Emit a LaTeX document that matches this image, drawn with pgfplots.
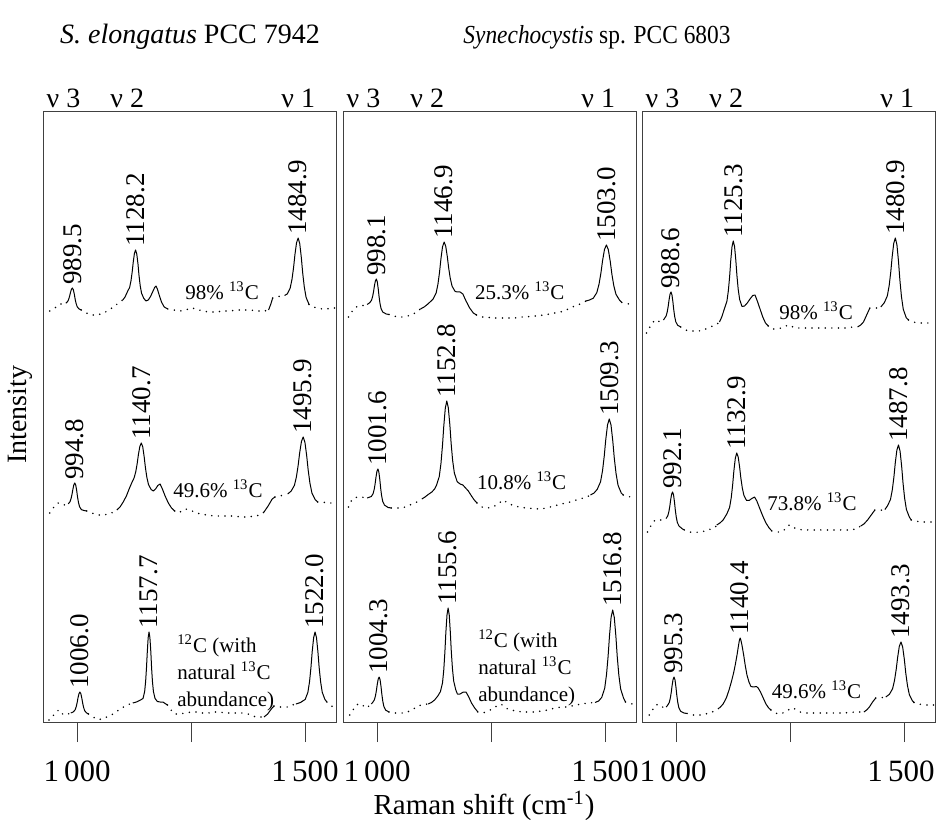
\documentclass[border=0pt]{standalone}
\usepackage{fontspec}
\setmainfont{Liberation Serif}
\usepackage{pgfplots}
\pgfplotsset{compat=1.18}

\newcommand\pkfont{\fontsize{13.5}{15}\selectfont}
\newcommand\smallfont{\fontsize{10.5}{13.5}\selectfont}
\newcommand\midfont{\fontsize{14}{16}\selectfont}

\tikzset{
  spec/.style={black, line width=0.5pt, line join=round},
  base/.style={black, line width=0.85pt, line cap=round, dash pattern=on 0pt off 3.3pt},
}

\pgfplotsset{
  ramanpanel/.style={
    scale only axis, width=146.5pt, height=305pt, anchor=south west,
    xmin=925, xmax=1568, ymin=0, ymax=610,
    xtick={1000,1250,1500},
    xticklabels={\textrm{1\,000},{},\textrm{1\,500}},
    ytick=\empty,
    xtick pos=lower, tick align=outside,
    major tick length=10pt,
    major tick style={black!75, line width=0.5pt},
    axis line style={black!75, line width=0.5pt},
    xticklabel style={font=\fontsize{15.5}{18}\selectfont, yshift=-6pt},
    clip=false,
    unbounded coords=jump,
  },
}

% peak position label, rotated, sitting on top of the peak
\newcommand\pk[3]{\node[rotate=90, anchor=west, inner sep=1.5pt, font=\pkfont] at (axis cs:#1,#2) {#3};}
% isotope label
\newcommand\pct[3]{\node[font=\smallfont, inner sep=0pt] at (axis cs:#1,#2) {#3 \textsuperscript{13}C};}
% vibrational mode label above the panel
\newcommand\mode[2]{\node[font=\midfont, inner sep=0pt] at (axis cs:#1,624) {ν #2};}

\begin{document}
\begin{tikzpicture}

%% ---------- S. elongatus PCC 7942 ----------
\begin{axis}[ramanpanel, at={(21.5pt,48.5pt)}]
% 98 % 13C
\addplot[spec] coordinates {
(975.1,418.8) (979,420.4) (981.4,422.8) (983.5,426) (985.3,429.5) (987.4,432.7) (989.5,434) (991.6,432.2) (993.7,427.8) (995.5,423) (997.6,418.6) (1000,415.3) (1003.9,413.1) (1009,412)
(1009,nan)
(1100,422) (1105,425) (1110.2,430.2) (1115.1,434.6) (1118.1,441.2) (1120.7,450) (1123,459.7) (1125.6,468.5) (1128.2,472) (1130.8,467.9) (1133.5,457.7) (1135.7,446.5) (1138.3,436.3) (1141.3,428.7) (1146.2,423.6) (1151,421) (1156,422) (1161,425.5) (1166,430.5) (1170,434.5) (1173,436) (1176,433) (1180,427) (1185,420) (1191,415) (1199,413)
(1199,nan)
(1420,412) (1425,418) (1429,424)
(1429,nan)
(1455,426.5) (1460.9,428) (1467.4,433.9) (1471.4,442.7) (1474.9,454.5) (1477.9,467.5) (1481.4,479.3) (1484.9,484) (1488.4,478.4) (1491.9,464.4) (1494.9,449) (1498.4,435) (1502.4,424.5) (1508.9,417.5)
};
\addplot[base] coordinates {
(940,411) (947,413) (954,415) (961,417) (968,419) (975.1,418.8)
(975.1,nan)
(1009,412) (1020,409) (1032,407) (1045,407) (1058,409) (1070,412) (1082,416) (1094,420) (1100,422)
(1100,nan)
(1199,413) (1212,412) (1225,411) (1238,412) (1250,414) (1262,413) (1275,411) (1290,410) (1305,410) (1320,411) (1335,411) (1350,412) (1365,412) (1380,412) (1395,411) (1410,411) (1420,412)
(1420,nan)
(1429,424) (1438,425) (1447,426) (1455,426.5)
(1455,nan)
(1508.9,417.5) (1518,415) (1528,414) (1538,413) (1548,413) (1558,414) (1565,414)
};
% 49.6 % 13C
\addplot[spec] coordinates {
(980.4,218.1) (984.3,220.3) (986.7,223.6) (988.8,228) (990.6,232.8) (992.7,237.2) (994.8,239) (996.9,236.8) (999,231.2) (1000.8,225) (1002.9,219.4) (1005.3,215.2) (1009.2,212.4) (1015,211.5) (1021,211)
(1021,nan)
(1087,212) (1094,215) (1101,220) (1108,226) (1114,233) (1119.1,238.5) (1125,244.2) (1128.6,250.3) (1131.7,258.5) (1134.4,267.5) (1137.6,275.7) (1140.7,279) (1143.9,275.1) (1147,265.3) (1149.7,254.5) (1152.9,244.7) (1156.5,237.4) (1162.3,232.5) (1167,231) (1172,233) (1177,236.5) (1182,238) (1187,233) (1193,226) (1200,219) (1207,214) (1214,211)
(1214,nan)
(1410,210) (1419,216) (1428,223) (1434,225)
(1434,nan)
(1462,228) (1469.5,230.9) (1476.7,236.6) (1481.1,245.1) (1484.9,256.5) (1488.2,269) (1492.1,280.4) (1495.9,285) (1499.8,279.7) (1503.6,266.5) (1506.9,252) (1510.8,238.8) (1515.2,228.9) (1522.3,222.3) (1528,220)
};
\addplot[base] coordinates {
(940,209) (946,213) (952,217) (958,219) (964,218) (970,217) (976,217.5) (980.4,218.1)
(980.4,nan)
(1021,211) (1032,209) (1045,207) (1058,207) (1070,208) (1080,210) (1087,212)
(1087,nan)
(1214,211) (1222,209) (1230,211) (1238,213) (1246,212) (1258,210) (1270,208) (1285,207) (1300,206) (1315,206) (1330,206) (1345,206) (1360,205) (1375,205) (1390,206) (1402,207) (1410,210)
(1410,nan)
(1434,225) (1444,226) (1454,227) (1462,228)
(1462,nan)
(1528,220) (1538,220) (1548,219) (1560,219)
};
% 12C
\addplot[spec] coordinates {
(986,9) (991.6,10.1) (995.5,12.2) (997.9,15.3) (1000,19.5) (1001.8,24.1) (1003.9,28.3) (1006,30) (1008.1,28.2) (1010.2,23.8) (1012,19) (1014.1,14.6) (1016.5,11.3) (1020.4,9.1) (1025,8)
(1025,nan)
(1122,19) (1130,20) (1137,21.5) (1144.5,23.5) (1148.1,30.5) (1150.3,41) (1152.2,55) (1153.9,70.4) (1155.8,84.4) (1157.7,90) (1159.6,84.4) (1161.6,70.4) (1163.2,55) (1165.1,41) (1167.3,30.5) (1170.9,23.5) (1176,20.5) (1182,20) (1188,20) (1193,18.5) (1198,17)
(1198,nan)
(1410,5) (1418,8) (1426,13) (1432,16)
(1432,nan)
(1480,18) (1490,19.5) (1500.4,22.6) (1506.3,29.7) (1509.9,40.3) (1513,54.5) (1515.7,70.1) (1518.9,84.3) (1522,90) (1525.2,84.3) (1528.3,70.1) (1531,54.5) (1534.2,40.3) (1537.8,29.7) (1543.6,22.6) (1548,20)
};
\addplot[base] coordinates {
(938,2) (944,4) (950,8) (955,10.5) (960,12) (964,11) (968,8) (973,7) (980,8) (986,9)
(986,nan)
(1025,8) (1035,5) (1045,2.5) (1055,3) (1065,5) (1075,7) (1085,10) (1095,13) (1105,16) (1115,18) (1122,19)
(1122,nan)
(1198,17) (1206,12) (1214,8) (1225,8) (1238,9) (1250,10) (1262,10) (1275,9) (1288,9) (1300,10) (1312,10) (1325,9) (1338,9) (1350,9) (1362,9) (1375,8) (1385,6) (1395,5) (1410,5)
(1410,nan)
(1432,16) (1442,15) (1452,15) (1462,15) (1472,17) (1480,18)
(1480,nan)
(1548,20) (1555,17) (1562,15) (1567,14)
};
\pk{989.5}{434}{989.5}
\pk{1128.2}{472}{1128.2}
\pk{1484.9}{484}{1484.9}
\pk{994.8}{239}{994.8}
\pk{1140.7}{279}{1140.7}
\pk{1495.9}{285}{1495.9}
\pk{1006.0}{30}{1006.0}
\pk{1157.7}{90}{1157.7}
\pk{1522.0}{90}{1522.0}
\pct{1318}{431}{98\%}
\pct{1309}{233}{49.6\%}
\node[font=\smallfont, align=left, anchor=west, inner sep=0pt] at (axis cs:1219,49)
  {\textsuperscript{12}C (with\\natural \textsuperscript{13}C\\abundance)};
\mode{970}{3}
\mode{1110}{2}
\mode{1485}{1}
\end{axis}

%% ---------- Synechocystis sp. PCC 6803, first set ----------
\begin{axis}[ramanpanel, at={(171.5pt,48.5pt)}]
% 25.3 % 13C
\addplot[spec] coordinates {
(978,417.5) (983.7,419.3) (987.6,421.8) (990,425.5) (992.1,430.5) (993.9,436) (996,441) (998.1,443) (1000.2,440.2) (1002.3,433.2) (1004.1,425.5) (1006.2,418.5) (1008.6,413.3) (1012.5,409.8) (1020,408) (1026,407.5)
(1026,nan)
(1095,413) (1103,415) (1110,417.5) (1116,420) (1122.9,423) (1129.4,429) (1133.4,438) (1136.9,450) (1139.9,463.2) (1143.4,475.2) (1146.9,480) (1150.4,475.8) (1153.9,465.4) (1156.9,454) (1160.4,443.6) (1164.4,435.8) (1170.9,430.6) (1176,430) (1182,430) (1188,428) (1195,421) (1203,414) (1211,409) (1218,407)
(1218,nan)
(1458,421) (1466,422) (1474.2,423.8) (1482,429.4) (1486.8,437.8) (1491,449) (1494.6,461.3) (1498.8,472.5) (1503,477) (1507.2,472.4) (1511.4,460.8) (1515,448) (1519.2,436.4) (1524,427.7) (1531.8,421.9) (1537,419.5)
};
\addplot[base] coordinates {
(937,405) (944,410) (951,414) (958,416) (965,416) (972,417) (978,417.5)
(978,nan)
(1026,407.5) (1036,406) (1046,405) (1056,405) (1066,406) (1076,407) (1086,410) (1095,413)
(1095,nan)
(1218,407) (1228,405) (1240,405) (1252,404) (1265,404) (1278,404) (1290,404) (1302,404) (1315,405) (1328,405) (1340,406) (1352,406) (1365,407) (1378,408) (1390,409) (1402,410) (1415,412) (1428,415) (1440,417) (1450,419) (1458,421)
(1458,nan)
(1537,419.5) (1545,418.5) (1553,418) (1562,417.5)
};
% 10.8 % 13C
\addplot[spec] coordinates {
(978,224) (987.2,225.5) (991.1,228.4) (993.5,232.7) (995.6,238.5) (997.4,244.9) (999.5,250.7) (1001.6,253) (1003.7,250) (1005.8,242.4) (1007.6,234) (1009.7,226.4) (1012.1,220.7) (1016,216.9) (1024,214.5) (1031,214)
(1031,nan)
(1098,223) (1105,225) (1112,227.5) (1120,230) (1126,233) (1130,236.5) (1136.2,245.4) (1140,258.7) (1143.3,276.5) (1146.2,296.1) (1149.5,313.9) (1152.8,321) (1156.1,314.2) (1159.5,297.2) (1162.3,278.5) (1165.6,261.5) (1169.4,248.8) (1175.6,240.3) (1182,238) (1188,237) (1194,234) (1200,231) (1207,226) (1213,222) (1219,219)
(1219,nan)
(1468,227) (1476,229) (1482.9,232.7) (1490.1,240.1) (1494.5,251.2) (1498.3,266) (1501.6,282.3) (1505.5,297.1) (1509.3,303) (1513.2,296.8) (1517,281.2) (1520.3,264) (1524.2,248.4) (1528.6,236.7) (1535.7,228.9) (1540,227)
};
\addplot[base] coordinates {
(937,215) (944,222) (950,224) (957,225) (964,225) (971,224.5) (978,224)
(978,nan)
(1031,214) (1042,214) (1052,214) (1062,215) (1072,217) (1082,219) (1092,221) (1098,223)
(1098,nan)
(1219,219) (1230,215) (1242,214) (1254,215) (1265,218) (1276,222) (1287,219) (1300,216) (1313,215) (1326,214) (1340,213.5) (1357,213) (1372,214) (1388,216) (1403,218) (1416,219) (1430,221) (1445,223) (1460,225) (1468,227)
(1468,nan)
(1540,227) (1548,226) (1556,225) (1563,225)
};
% 12C
\addplot[spec] coordinates {
(987,18) (989.9,19.4) (993.8,22.1) (996.2,26.1) (998.3,31.5) (1000.1,37.4) (1002.2,42.8) (1004.3,45) (1006.4,42.2) (1008.5,35.2) (1010.3,27.5) (1012.4,20.5) (1014.8,15.3) (1018.7,11.8) (1026,10)
(1026,nan)
(1112,18) (1119,19.5) (1126,22) (1133,26) (1138.8,30.4) (1143.4,39.2) (1146.2,52.4) (1148.6,70) (1150.7,89.4) (1153.2,107) (1155.6,114) (1158.1,107.1) (1160.5,89.9) (1162.6,71) (1165.1,53.8) (1167.9,40.9) (1172.4,32.3) (1176,28) (1182,28) (1189,30) (1195,30) (1201,25) (1207,19) (1214,14) (1221,10)
(1221,nan)
(1478,19.5) (1486,21) (1492.8,24.6) (1499.3,33.8) (1503.3,47.6) (1506.8,66) (1509.8,86.2) (1513.3,104.6) (1516.8,112) (1520.3,104.6) (1523.8,86) (1526.8,65.5) (1530.3,46.9) (1534.3,33) (1540.8,23.7) (1545,20)
};
\addplot[base] coordinates {
(940,7) (947,12) (954,17) (960,18) (965,18) (970,16) (976,14) (982,16) (987,18)
(987,nan)
(1026,10) (1036,9) (1046,9) (1056,9) (1066,10) (1076,12) (1086,15) (1096,17) (1112,18)
(1112,nan)
(1221,10) (1232,9) (1244,11) (1256,14) (1265,17) (1273,17.5) (1282,14) (1292,12) (1305,11) (1318,10) (1330,10) (1345,10) (1360,11) (1375,12) (1390,14) (1405,15) (1419,15) (1435,17) (1450,18) (1462,19) (1478,19.5)
(1478,nan)
(1545,20) (1552,19) (1560,18) (1565,18)
};
\pk{998.1}{443}{998.1}
\pk{1146.9}{480}{1146.9}
\pk{1503.0}{477}{1503.0}
\pk{1001.6}{253}{1001.6}
\pk{1152.8}{321}{1152.8}
\pk{1509.3}{303}{1509.3}
\pk{1004.3}{45}{1004.3}
\pk{1155.6}{114}{1155.6}
\pk{1516.8}{112}{1516.8}
\pct{1313}{431}{25.3\%}
\pct{1317}{241}{10.8\%}
\node[font=\smallfont, align=left, anchor=west, inner sep=0pt] at (axis cs:1221,54)
  {\textsuperscript{12}C (with\\natural \textsuperscript{13}C\\abundance)};
\mode{970}{3}
\mode{1110}{2}
\mode{1485}{1}
\end{axis}

%% ---------- Synechocystis sp. PCC 6803, second set ----------
\begin{axis}[ramanpanel, at={(321pt,48.5pt)}, xticklabel style={xshift=-1.5pt}]
% 98 % 13C
\addplot[spec] coordinates {
(972,402) (974.2,403.4) (978.1,406.2) (980.5,410.4) (982.6,416) (984.4,422.2) (986.5,427.8) (988.6,430) (990.7,427.2) (992.8,420.2) (994.6,412.5) (996.7,405.5) (999.1,400.3) (1003,396.8) (1010,395)
(1010,nan)
(1095,400) (1100,405) (1106.1,413.6) (1111.3,420.7) (1114.5,431.3) (1117.3,445.5) (1119.7,461.1) (1122.5,475.3) (1125.3,481) (1128.1,475.5) (1130.9,461.7) (1133.3,446.5) (1136.1,432.7) (1139.3,422.4) (1144.5,415.5) (1150,416) (1156,419) (1162,423) (1168,426.5) (1173,427) (1178,421) (1184,413) (1190,405) (1196,399) (1202,396)
(1202,nan)
(1398,395) (1405,397) (1411,400) (1418,407) (1425,414)
(1425,nan)
(1449,415) (1456.9,419.4) (1463.4,426.2) (1467.4,436.4) (1470.9,450) (1473.9,465) (1477.4,478.6) (1480.9,484) (1484.4,477.3) (1487.9,460.5) (1490.9,442) (1494.4,425.2) (1498.4,412.6) (1504.9,404.2) (1510,402)
};
\addplot[base] coordinates {
(935,389) (941,394) (947,398) (953,402) (960,401) (966,400) (972,402)
(972,nan)
(1010,395) (1020,392) (1030,391) (1040,391) (1050,391) (1060,392) (1070,394) (1080,396) (1090,398) (1095,400)
(1095,nan)
(1202,396) (1210,393) (1220,393) (1230,394) (1240,396) (1248,397) (1256,395) (1265,394) (1278,394) (1290,394) (1302,394) (1315,394) (1330,394) (1345,394) (1360,394) (1375,394) (1388,395) (1398,395)
(1398,nan)
(1425,414) (1433,414) (1441,414) (1449,415)
(1449,nan)
(1510,402) (1520,400) (1530,399) (1540,399) (1550,399) (1560,399) (1566,399)
};
% 73.8 % 13C
\addplot[spec] coordinates {
(977.7,203.4) (981.6,206.2) (984,210.4) (986.1,216) (987.9,222.2) (990,227.8) (992.1,230) (994.2,227.1) (996.3,219.9) (998.1,212) (1000.2,204.8) (1002.6,199.4) (1006.5,195.8) (1014,193) (1018,192)
(1018,nan)
(1089,197) (1096,199) (1103,202) (1111.3,208.2) (1117.2,214.6) (1120.8,224.2) (1123.9,237) (1126.6,251.1) (1129.8,263.9) (1132.9,269) (1136.1,265) (1139.2,255) (1141.9,244) (1145.1,234) (1148.7,226.5) (1154.5,221.5) (1160,221.5) (1166,223.5) (1172,225) (1177,221) (1183,214) (1190,206) (1197,199) (1204,194) (1210,191)
(1210,nan)
(1405,196) (1412,198) (1420,202) (1428,207) (1436,212)
(1436,nan)
(1458,212.5) (1463.8,216.2) (1470.3,222.6) (1474.3,232.2) (1477.8,245) (1480.8,259.1) (1484.3,271.9) (1487.8,277) (1491.3,270.9) (1494.8,255.7) (1497.8,239) (1501.3,223.8) (1505.3,212.4) (1511.8,204.8) (1516,202)
};
\addplot[base] coordinates {
(937,190) (943,195) (948,199) (954,202) (960,202) (966,202) (972,202) (977.7,203.4)
(977.7,nan)
(1018,192) (1028,190) (1040,189.5) (1052,190) (1064,191) (1076,193) (1086,195) (1089,197)
(1089,nan)
(1210,191) (1220,190) (1230,190) (1240,193) (1248,197) (1256,195) (1265,193) (1278,192) (1290,192) (1305,192) (1320,192) (1335,192) (1350,192) (1365,192) (1380,192) (1395,193) (1405,196)
(1405,nan)
(1436,212) (1444,211.5) (1452,212) (1458,212.5)
(1458,nan)
(1516,202) (1526,201) (1536,200) (1546,200) (1556,200) (1565,200)
};
% 49.6 % 13C
\addplot[spec] coordinates {
(978,15) (980.9,16.5) (984.8,19.5) (987.2,24) (989.3,30) (991.1,36.6) (993.2,42.6) (995.3,45) (997.4,42.1) (999.5,34.9) (1001.3,27) (1003.4,19.8) (1005.8,14.4) (1009.7,10.8) (1017,9) (1024,8.5)
(1024,nan)
(1095,14) (1103,18) (1110,24) (1116,32) (1121,40) (1126,49) (1130,58) (1133.5,67) (1136.6,76) (1138.6,81.5) (1140.4,84) (1142.2,81.5) (1144.3,77) (1148.1,67) (1151.4,57) (1155.3,47) (1159.7,40) (1164,35.5) (1170,35) (1176,35.5) (1180,34) (1185,30) (1191,24) (1197,18) (1203,14) (1208,12)
(1208,nan)
(1412,10) (1418,12) (1424,15) (1431,20) (1438,24)
(1438,nan)
(1460,25) (1468.1,27.8) (1474.9,33.3) (1479.1,41.5) (1482.8,52.5) (1486,64.6) (1489.6,75.6) (1493.3,80) (1497,75) (1500.7,62.6) (1503.8,49) (1507.5,36.6) (1511.7,27.3) (1518.5,21.1) (1522,19.5)
};
\addplot[base] coordinates {
(941,7) (948,12) (955,17) (960,17.5) (965,17) (970,15) (974,14) (978,15)
(978,nan)
(1024,8.5) (1034,7) (1044,7) (1054,7) (1064,8) (1074,9) (1084,11) (1090,13) (1095,14)
(1095,nan)
(1208,12) (1217,9) (1226,8) (1234,9) (1242,11) (1250,13) (1257,14) (1264,12) (1272,10) (1282,9) (1295,9) (1308,9) (1320,9) (1335,9) (1350,9) (1365,9) (1380,9.5) (1395,10) (1412,10)
(1412,nan)
(1438,24) (1446,24) (1453,24.5) (1460,25)
(1460,nan)
(1522,19.5) (1530,18) (1540,17.5) (1550,17) (1558,17) (1565,17)
};
\pk{988.6}{430}{988.6}
\pk{1125.3}{481}{1125.3}
\pk{1480.9}{484}{1480.9}
\pk{992.1}{230}{992.1}
\pk{1132.9}{269}{1132.9}
\pk{1487.8}{277}{1487.8}
\pk{995.3}{45}{995.3}
\pk{1140.4}{84}{1140.4}
\pk{1493.3}{80}{1493.3}
\pct{1307}{411}{98\%}
\pct{1298}{220}{73.8\%}
\pct{1308}{32}{49.6\%}
\mode{970}{3}
\mode{1110}{2}
\mode{1485}{1}
\end{axis}

% shared titles and axis names
\node[font=\midfont] at (95pt,391pt) {\textit{S. elongatus} PCC 7942};
\node[font=\fontsize{13}{15}\selectfont] at (298.5pt,391pt) {\scalebox{0.9}[1]{\textit{Synechocystis} sp. PCC 6803}};
\node[font=\midfont, rotate=90] at (10pt,202pt) {Intensity};
\node[font=\fontsize{14.5}{16}\selectfont] at (242pt,6.5pt) {Raman shift (cm\textsuperscript{-1})};

\pgfresetboundingbox
\path[use as bounding box] (0,0) rectangle (468pt,409.5pt);
\end{tikzpicture}
\end{document}
